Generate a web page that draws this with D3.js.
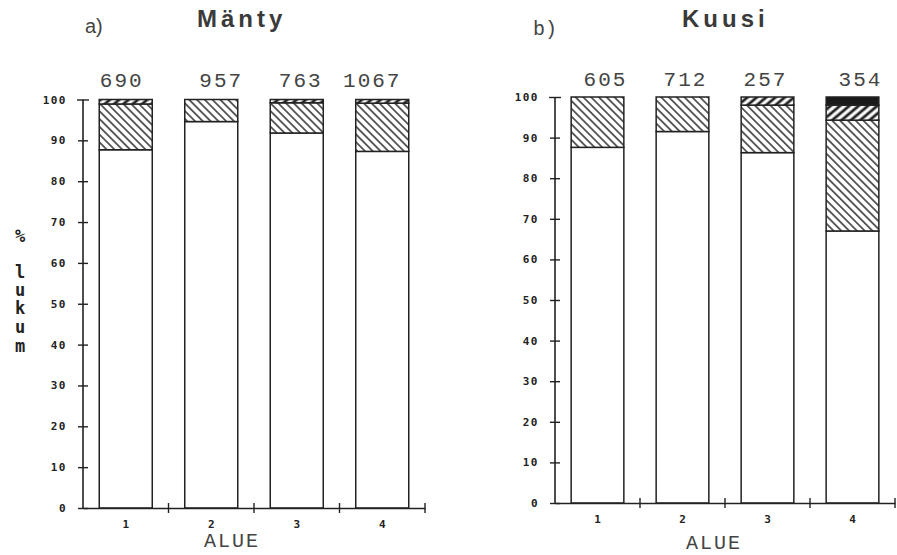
<!DOCTYPE html>
<html>
<head>
<meta charset="utf-8">
<script src="https://cdn.jsdelivr.net/npm/d3@7"></script>
<style>
  body { margin: 0; background: #fff; }
  svg { display: block; }
</style>
</head>
<body>
<svg id="main"></svg>
<script>
const width = 897;
const height = 555;

// alueet (x-akseli)
const alue = ['1', '2', '3', '4'];
const luokat = ['c1', 'c2', 'c3', 'c4'];
const yTicks = [0, 10, 20, 30, 40, 50, 60, 70, 80, 90, 100];

// havaintojen lukumäärät pylväiden yllä
const mantyN = [690, 957, 763, 1067];
const kuusiN = [605, 712, 257, 354];

// osuudet (%) alhaalta ylös
const mantyC1 = [87.7, 94.6, 91.8, 87.3];
const mantyC2 = [11.2, 5.4, 7.4, 11.8];
const mantyC3 = [1.1, 0, 0.8, 0.9];
const mantyC4 = [0, 0, 0, 0];

const kuusiC1 = [87.6, 91.5, 86.3, 67.0];
const kuusiC2 = [12.4, 8.5, 11.7, 27.3];
const kuusiC3 = [0, 0, 2.0, 3.7];
const kuusiC4 = [0, 0, 0, 2.0];

const ink = '#222';

const svg = d3.select('#main').attr('width', width).attr('height', height);

// kuviot
const defs = svg.append('defs');
const back = defs.append('pattern')
    .attr('id', 'back')
    .attr('patternUnits', 'userSpaceOnUse')
    .attr('width', 5.5).attr('height', 5.5)
    .attr('patternTransform', 'rotate(-45)');
back.append('rect').attr('width', 5.5).attr('height', 5.5).attr('fill', '#fff');
back.append('line').attr('x1', 2.75).attr('x2', 2.75).attr('y1', 0).attr('y2', 5.5)
    .attr('stroke', ink).attr('stroke-width', 1.4);

const fwd = defs.append('pattern')
    .attr('id', 'fwd')
    .attr('patternUnits', 'userSpaceOnUse')
    .attr('width', 6).attr('height', 6)
    .attr('patternTransform', 'rotate(50)');
fwd.append('rect').attr('width', 6).attr('height', 6).attr('fill', '#fff');
fwd.append('line').attr('x1', 3).attr('x2', 3).attr('y1', 0).attr('y2', 6)
    .attr('stroke', ink).attr('stroke-width', 2.8);

const fills = { c1: '#fff', c2: 'url(#back)', c3: 'url(#fwd)', c4: '#1a1a1a' };

function drawPanel(p) {
    const g = svg.append('g');
    const rows = alue.map((a, i) => ({
        alue: a, c1: p.c1[i], c2: p.c2[i], c3: p.c3[i], c4: p.c4[i]
    }));
    const series = d3.stack().keys(luokat)(rows);

    const xBand = d3.scaleBand().domain(alue).range([p.x0, p.x1]).padding(0);
    const xBar = d3.scaleBand().domain(alue).range([p.x0, p.x1])
        .paddingInner(0.38).paddingOuter(0.19);
    const y = d3.scaleLinear().domain([0, 100]).range([p.yBase, p.yTop]);

    // pylväät
    g.selectAll('g.layer')
        .data(series)
        .join('g')
        .attr('class', 'layer')
        .attr('fill', d => fills[d.key])
        .selectAll('rect')
        .data(d => d.filter(s => s[1] - s[0] > 0))
        .join('rect')
        .attr('x', d => xBar(d.data.alue))
        .attr('y', d => y(d[1]))
        .attr('width', xBar.bandwidth())
        .attr('height', d => y(d[0]) - y(d[1]))
        .attr('stroke', ink)
        .attr('stroke-width', 1.5);

    // y-akseli
    const yAxis = g.append('g')
        .attr('transform', `translate(${p.x0},0)`)
        .call(d3.axisLeft(y).tickValues(yTicks).tickSize(5).tickPadding(11));
    yAxis.select('.domain').attr('stroke', ink).attr('stroke-width', 1.6)
        .attr('d', `M0,${p.yBase}V${y(100)}`);
    yAxis.selectAll('.tick line').attr('x1', -5).attr('x2', 5)
        .attr('stroke', ink).attr('stroke-width', 1.4);
    yAxis.select('.tick:last-of-type line').attr('x1', -6).attr('x2', 6);
    yAxis.selectAll('.tick text')
        .attr('font-family', 'DejaVu Sans Mono')
        .attr('font-weight', 'bold')
        .attr('font-size', 11)
        .attr('letter-spacing', 1.5)
        .attr('fill', ink);

    // x-akseli
    const xAxis = g.append('g')
        .attr('transform', `translate(0,${p.yBase})`)
        .call(d3.axisBottom(xBand).tickSize(0).tickPadding(12));
    xAxis.select('.domain').attr('stroke', ink).attr('stroke-width', 1.6);
    xAxis.selectAll('.tick text')
        .attr('font-family', 'DejaVu Sans Mono')
        .attr('font-weight', 'bold')
        .attr('font-size', 11)
        .attr('fill', ink);
    xAxis.selectAll('line.sep')
        .data(alue)
        .join('line')
        .attr('class', 'sep')
        .attr('x1', d => xBand(d) + xBand.bandwidth())
        .attr('x2', d => xBand(d) + xBand.bandwidth())
        .attr('y1', -5).attr('y2', 5)
        .attr('stroke', ink).attr('stroke-width', 1.4);

    // lukumäärät
    g.selectAll('text.n')
        .data(p.n)
        .join('text')
        .attr('class', 'n')
        .attr('x', (d, i) => xBar(alue[i]) + xBar.bandwidth() / 2 + p.nShift[i])
        .attr('y', p.nY)
        .attr('text-anchor', 'middle')
        .attr('font-family', 'Liberation Mono')
        .attr('font-size', 21)
        .attr('letter-spacing', 2)
        .attr('fill', '#444')
        .text(d => d);

    // akselin nimi
    g.append('text')
        .attr('x', p.alueX)
        .attr('y', p.alueY)
        .attr('text-anchor', 'middle')
        .attr('font-family', 'Liberation Mono')
        .attr('font-size', 20)
        .attr('letter-spacing', 2)
        .attr('fill', '#444')
        .text('ALUE');

    // otsikot
    g.append('text')
        .attr('x', p.labelX).attr('y', p.labelY)
        .attr('font-family', p.labelFont)
        .attr('font-size', 20)
        .attr('fill', '#444')
        .text(p.label);
    g.append('text')
        .attr('x', p.titleX).attr('y', 27)
        .attr('font-family', 'Liberation Sans')
        .attr('font-weight', 'bold')
        .attr('font-size', 24)
        .attr('letter-spacing', 4)
        .attr('fill', '#3a3a3a')
        .text(p.title);
}

drawPanel({
    x0: 83, x1: 425, yBase: 508, yTop: 99.5,
    c1: mantyC1, c2: mantyC2, c3: mantyC3, c4: mantyC4,
    n: mantyN, nY: 87, nShift: [-4, 10, 4, -10],
    alueX: 232, alueY: 547, title: 'Mänty', titleX: 197, label: 'a)', labelX: 85, labelY: 33,
    labelFont: 'Liberation Sans'
});

drawPanel({
    x0: 555, x1: 895, yBase: 503, yTop: 97,
    c1: kuusiC1, c2: kuusiC2, c3: kuusiC3, c4: kuusiC4,
    n: kuusiN, nY: 86, nShift: [8, 3, -2, 8],
    alueX: 714, alueY: 549, title: 'Kuusi', titleX: 682, label: 'b)', labelX: 533, labelY: 35,
    labelFont: 'Liberation Mono'
});

// y-akselin nimi, kirjaimet allekkain
const yTitle = svg.append('text')
    .attr('font-family', 'DejaVu Sans Mono')
    .attr('font-weight', 'bold')
    .attr('font-size', 17)
    .attr('text-anchor', 'middle')
    .attr('fill', ink);
const yLetters = ['%', 'l', 'u', 'k', 'u', 'm'];
const yLetterY = [242, 278, 296, 314, 333, 352];
yTitle.selectAll('tspan')
    .data(yLetters)
    .join('tspan')
    .attr('x', 20)
    .attr('y', (d, i) => yLetterY[i])
    .text(d => d);
</script>
</body>
</html>
